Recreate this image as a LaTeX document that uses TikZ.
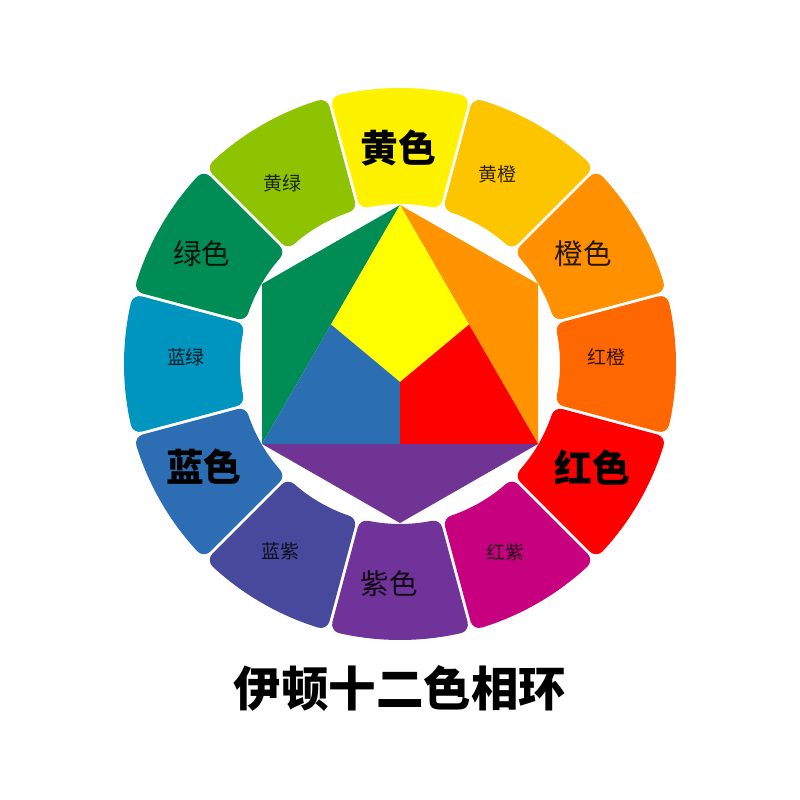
\documentclass[tikz,border=0pt]{standalone}
\usepackage{fontspec}
\newfontfamily\cjk{Noto Sans CJK SC}
\definecolor{cY}{HTML}{FFF200}
\definecolor{cYO}{HTML}{FDC400}
\definecolor{cO}{HTML}{FF9000}
\definecolor{cRO}{HTML}{FF6800}
\definecolor{cR}{HTML}{FF0000}
\definecolor{cRV}{HTML}{C6007E}
\definecolor{cV}{HTML}{70339A}
\definecolor{cBV}{HTML}{474A9C}
\definecolor{cB}{HTML}{2C6DB3}
\definecolor{cBG}{HTML}{0095BF}
\definecolor{cG}{HTML}{008C55}
\definecolor{cYG}{HTML}{8DC300}
\definecolor{iY}{HTML}{FFFF00}
\definecolor{iO}{HTML}{FF9400}
\definecolor{iR}{HTML}{FF0000}
\definecolor{iG}{HTML}{008C55}
\definecolor{iB}{HTML}{2C6EB2}
\definecolor{iV}{HTML}{703594}
\tikzset{
  seg/.style={line width=0.36cm, line join=round},
  primlabel/.style={font=\cjk\bfseries\fontsize{21.5pt}{22pt}\selectfont, text=black},
  seclabel/.style={font=\cjk\fontsize{16.2pt}{17pt}\selectfont, text=black, text opacity=0.85},
  terlabel/.style={font=\cjk\fontsize{10.8pt}{11pt}\selectfont, text=black, text opacity=0.8},
  titlelabel/.style={font=\cjk\bfseries\fontsize{27pt}{28pt}\selectfont, text=black},
}
\begin{document}
\begin{tikzpicture}[x=0.02cm,y=0.02cm]
\useasboundingbox (-400,-436) rectangle (400,364);
\fill[white] (-400,-436) rectangle (400,364);
% outer ring segments (corner radius 9, gap 3)
\pgfmathsetmacro\Roo{267}
\pgfmathsetmacro\Rii{169}
\pgfmathsetmacro\ao{15-asin(10.5/\Roo)}
\pgfmathsetmacro\ai{15-asin(10.5/\Rii)}
\foreach \i/\col in {0/cY,1/cYO,2/cO,3/cRO,4/cR,5/cRV,6/cV,7/cBV,8/cB,9/cBG,10/cG,11/cYG}{
  \pgfmathsetmacro\th{90-30*\i}
  \pgfmathsetmacro\sa{\th+\ao}
  \pgfmathsetmacro\ea{\th-\ao}
  \pgfmathsetmacro\sb{\th-\ai}
  \pgfmathsetmacro\eb{\th+\ai}
  \filldraw[seg, fill=\col, draw=\col] (\sa:\Roo) arc[start angle=\sa, end angle=\ea, radius=\Roo] -- (\sb:\Rii) arc[start angle=\sb, end angle=\eb, radius=\Rii] -- cycle;
}
% inner hexagon
\coordinate (T) at (0,159);
\coordinate (UL) at (-138,80);
\coordinate (LL) at (-138,-80);
\coordinate (B) at (0,-159);
\coordinate (LR) at (138,-80);
\coordinate (UR) at (138,80);
\coordinate (C) at (0,-18);
\coordinate (ML) at (-69,39.5);
\coordinate (MR) at (69,39.5);
\coordinate (MB) at (0,-80);
\fill[iG] (T) -- (UL) -- (LL) -- cycle;
\fill[iO] (T) -- (UR) -- (LR) -- cycle;
\fill[iV] (LL) -- (B) -- (LR) -- cycle;
\fill[iY] (T) -- (MR) -- (C) -- (ML) -- cycle;
\fill[iB] (ML) -- (C) -- (MB) -- (LL) -- cycle;
\fill[iR] (MR) -- (LR) -- (MB) -- (C) -- cycle;
% labels
\node[primlabel] (lY) at (-2,216) {黄色};
\node[terlabel] (lYO) at (97,190) {黄橙};
\node[seclabel] (lO) at (183,110) {橙色};
\node[terlabel] (lRO) at (206,7) {红橙};
\node[primlabel] (lR) at (192,-104) {红色};
\node[terlabel] (lRV) at (105,-188) {红紫};
\node[seclabel] (lV) at (-11,-220) {紫色};
\node[terlabel] (lBV) at (-120,-187) {蓝紫};
\node[primlabel] (lB) at (-196,-103) {蓝色};
\node[terlabel] (lBG) at (-214,7) {蓝绿};
\node[seclabel] (lG) at (-198,110) {绿色};
\node[terlabel] (lYG) at (-118,181) {黄绿};
\node[titlelabel] (title) at (0,-324) {伊顿十二色相环};
\end{tikzpicture}
\end{document}
